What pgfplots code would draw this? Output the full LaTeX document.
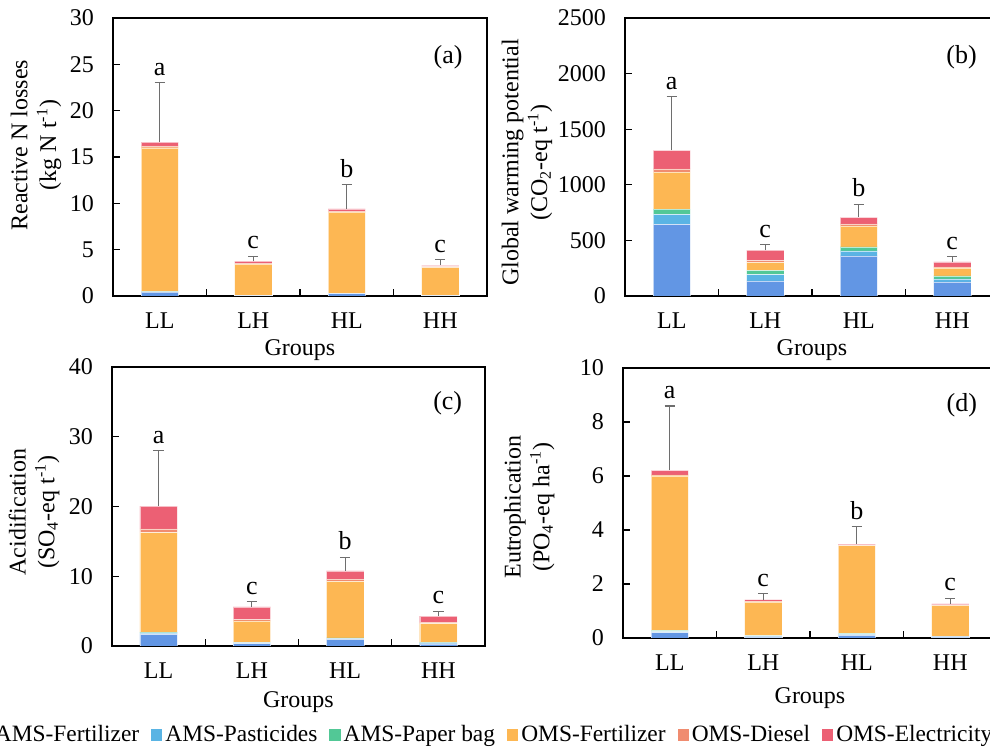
\documentclass[border=0pt]{standalone}
\usepackage{fontspec}
\setmainfont{Liberation Serif}
\usepackage{pgfplots}
\usepackage{pgfplotstable}
\pgfplotsset{compat=1.18}

\definecolor{cAF}{RGB}{98,150,228}
\definecolor{cAP}{RGB}{90,180,228}
\definecolor{cAB}{RGB}{82,200,150}
\definecolor{cOF}{RGB}{253,183,83}
\definecolor{cOD}{RGB}{240,140,112}
\definecolor{cOE}{RGB}{236,96,116}
\definecolor{cErr}{RGB}{110,110,110}

\pgfplotstableread{
x AF AP AB OF OD OE tot err top lab
0 0.43 0.02 0.02 15.53 0.20 0.40 16.60 6.45 23.05 a
1 0.05 0.01 0.01 3.38 0.10 0.20 3.75 0.55 4.30 c
2 0.25 0.02 0.02 8.77 0.10 0.24 9.40 2.65 12.05 b
3 0.05 0.01 0.01 3.03 0.08 0.12 3.30 0.65 3.95 c
}\dataA
\pgfplotstableread{
x AF AP AB OF OD OE tot err top lab
0 643 90 48 334 27 168 1310 481 1791 a
1 135 57 39 72 18 91 412 51 463 c
2 361 45 36 189 18 57 706 120 826 b
3 126 27 27 72 9 45 306 46 352 c
}\dataB
\pgfplotstableread{
x AF AP AB OF OD OE tot err top lab
0 1.67 0.20 0.13 14.27 0.53 3.25 20.05 7.95 28.00 a
1 0.33 0.15 0.09 3.02 0.24 1.77 5.60 0.80 6.40 c
2 0.96 0.14 0.05 8.13 0.29 1.20 10.77 1.96 12.73 b
3 0.29 0.14 0.10 2.67 0.24 0.86 4.30 0.68 4.98 c
}\dataC
\pgfplotstableread{
x AF AP AB OF OD OE tot err top lab
0 0.20 0.04 0.04 5.73 0.03 0.17 6.21 2.38 8.59 a
1 0.04 0.02 0.03 1.25 0.02 0.06 1.42 0.23 1.65 c
2 0.10 0.03 0.04 3.25 0.02 0.04 3.48 0.65 4.13 b
3 0.04 0.01 0.01 1.15 0.01 0.04 1.26 0.21 1.47 c
}\dataD

\pgfplotsset{
  panel/.style={
    scale only axis, width=187pt, height=139pt, anchor=south west,
    ybar stacked, bar width=0.4,
    xmin=-0.5, xmax=3.5, ymin=0,
    xtick={0,1,2,3}, xticklabels={LL,LH,HL,HH},
    minor xtick={0.5,1.5,2.5},
    major x tick style={draw=none},
    minor tick length=3.5pt, major tick length=3.5pt,
    tick align=inside, xtick pos=bottom, ytick pos=left,
    axis line style={black, line width=0.7pt},
    tick style={black, line width=0.6pt},
    /pgf/number format/assume math mode=true,
    /pgf/number format/1000 sep={},
    xticklabel style={yshift=-5pt},
    yticklabel style={xshift=-6pt},
    ylabel style={align=center},
    xlabel={Groups},
  },
  ov/.style={
    scale only axis, width=187pt, height=139pt, anchor=south west,
    xmin=-0.5, xmax=3.5, ymin=0, hide axis, clip=false,
  },
  seg/.style={fill=#1, draw=white, draw opacity=0.6, line width=0.2pt},
}
\newcommand\stackbars[1]{%
  \addplot[seg=cAF] table[x=x,y=AF]{#1};
  \addplot[seg=cAP] table[x=x,y=AP]{#1};
  \addplot[seg=cAB] table[x=x,y=AB]{#1};
  \addplot[seg=cOF] table[x=x,y=OF]{#1};
  \addplot[seg=cOD] table[x=x,y=OD]{#1};
  \addplot[seg=cOE] table[x=x,y=OE]{#1};
}
\newcommand\errlet[1]{%
  \addplot[draw=none, mark=none,
    error bars/.cd, y dir=plus, y explicit,
    error bar style={cErr, line width=0.6pt},
    error mark options={cErr, line width=0.6pt, mark size=2.6pt, rotate=90}]
    table[x=x, y=tot, y error=err]{#1};
  \addplot[draw=none, mark=none, nodes near coords, point meta=explicit symbolic,
    every node near coord/.append style={anchor=south, font=\fontsize{13}{15}\selectfont}]
    table[x=x, y=top, meta=lab]{#1};
}

\begin{document}
\begin{tikzpicture}[font=\fontsize{12}{14.4}\selectfont]
\useasboundingbox (0,0) rectangle (495pt,374pt);
\clip (0,0) rectangle (495pt,374pt);

% (a)
\begin{axis}[panel, at={(56.5pt,226pt)}, ymax=30, ytick={0,5,...,30},
  ylabel={Reactive N losses\\(kg N t\textsuperscript{-1})},
  ylabel style={at={(axis description cs:-0.206,0.543)}, anchor=center},
  xlabel style={at={(axis description cs:0.5,-0.194)}, anchor=center}]
\stackbars{\dataA}
\node[font=\fontsize{13}{15}\selectfont] at (axis description cs:0.896,0.86) {(a)};
\end{axis}
\begin{axis}[ov, at={(56.5pt,226pt)}, ymax=30]
\errlet{\dataA}
\end{axis}

% (b)
\begin{axis}[panel, at={(312.5pt,226pt)}, ymax=2500, ytick={0,500,...,2500},
  ylabel={Global warming potential\\(CO\textsubscript{2}-eq t\textsuperscript{-1})},
  ylabel style={at={(axis description cs:-0.262,0.48)}, anchor=center},
  xlabel style={at={(axis description cs:0.5,-0.194)}, anchor=center}]
\stackbars{\dataB}
\node[font=\fontsize{13}{15}\selectfont] at (axis description cs:0.90,0.86) {(b)};
\end{axis}
\begin{axis}[ov, at={(312.5pt,226pt)}, ymax=2500]
\errlet{\dataB}
\end{axis}

% (c)
\begin{axis}[panel, at={(56pt,51pt)}, width=186.5pt, height=139.5pt,
  ymax=40, ytick={0,10,...,40},
  ylabel={Acidification\\(SO\textsubscript{4}-eq t\textsuperscript{-1})},
  ylabel style={at={(axis description cs:-0.209,0.48)}, anchor=center},
  xlabel style={at={(axis description cs:0.5,-0.2)}, anchor=center},
  legend columns=6,
  legend style={at={(axis description cs:1.008,-0.319)}, anchor=center,
    draw=none, fill=none, inner sep=0pt,
    font=\fontsize{11.7}{14}\selectfont,
    nodes={inner sep=1.5pt},
    /tikz/every even column/.append style={column sep=4.5pt}},
  legend image code/.code={\fill[#1, draw=none] (0pt,-2.8pt) rectangle (5.6pt,2.8pt);}]
\stackbars{\dataC}
\legend{AMS-Fertilizer, AMS-Pasticides, AMS-Paper bag, OMS-Fertilizer, OMS-Diesel, OMS-Electricity}
\node[font=\fontsize{13}{15}\selectfont] at (axis description cs:0.90,0.87) {(c)};
\end{axis}
\begin{axis}[ov, at={(56pt,51pt)}, width=186.5pt, height=139.5pt, ymax=40]
\errlet{\dataC}
\end{axis}

% (d)
\begin{axis}[panel, at={(311.5pt,55pt)}, height=135pt,
  ymax=10, ytick={0,2,...,10},
  ylabel={Eutrophication\\(PO\textsubscript{4}-eq ha\textsuperscript{-1})},
  ylabel style={at={(axis description cs:-0.251,0.485)}, anchor=center},
  xlabel style={at={(axis description cs:0.5,-0.222)}, anchor=center}]
\stackbars{\dataD}
\node[font=\fontsize{13}{15}\selectfont] at (axis description cs:0.906,0.863) {(d)};
\end{axis}
\begin{axis}[ov, at={(311.5pt,55pt)}, height=135pt, ymax=10]
\errlet{\dataD}
\end{axis}
\end{tikzpicture}
\end{document}
